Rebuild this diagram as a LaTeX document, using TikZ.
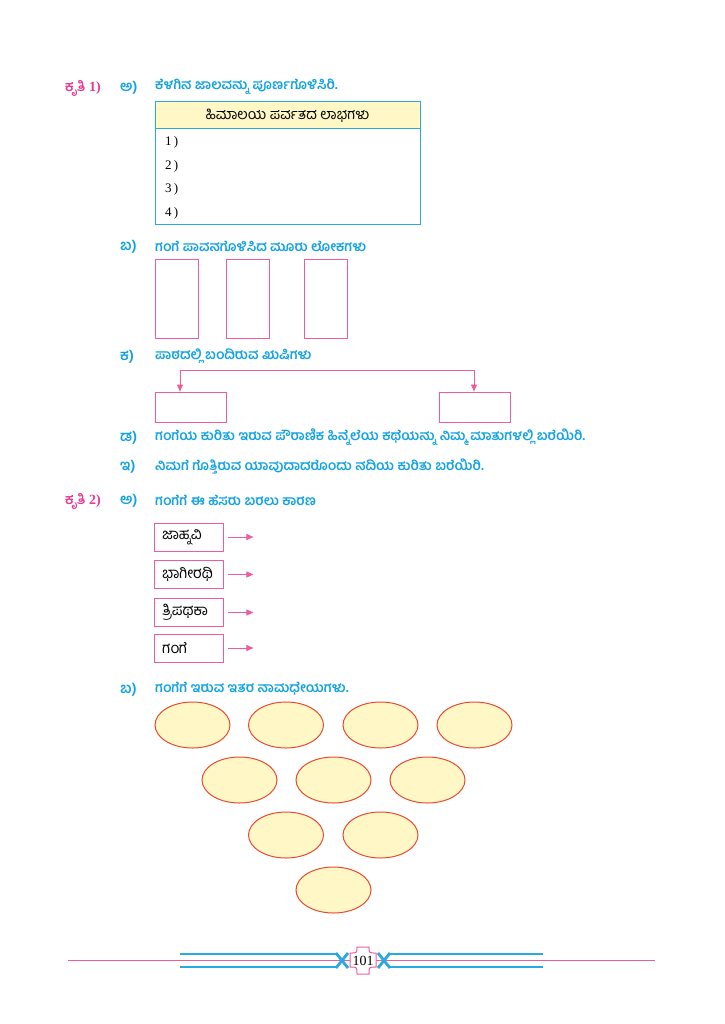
\documentclass[tikz,border=0pt]{standalone}
\usepackage{fontspec}
\setmainfont{Liberation Serif}
\newfontfamily\kn[Script=Kannada]{Hind Mysuru}
\usetikzlibrary{arrows.meta,shapes.geometric}
\definecolor{kmag}{HTML}{E6398F}
\definecolor{kcyan}{HTML}{12A2E2}
\definecolor{kpink}{HTML}{EE5C9E}
\definecolor{kyel}{HTML}{FFF7C6}
\definecolor{kred}{HTML}{EA4A2E}
\definecolor{tcyan}{HTML}{29A9E0}
\tikzset{
  kruti/.style={anchor=west,inner sep=0pt,text=kmag,font=\kn\bfseries\fontsize{14}{16}\selectfont},
  qlab/.style={anchor=west,inner sep=0pt,text=kcyan,font=\kn\bfseries\fontsize{14.5}{16}\selectfont},
  qtext/.style={anchor=west,inner sep=0pt,text=kcyan,font=\kn\bfseries\fontsize{13.6}{16}\selectfont},
  pbox/.style={draw=kpink,line width=0.9pt,inner sep=0pt},
  namebox/.style={draw=kpink,line width=0.9pt,inner xsep=8pt,inner ysep=0pt,minimum width=69pt,minimum height=28pt,text width=53pt,align=left,font=\kn\fontsize{15}{16}\selectfont},
  pinkarrow/.style={draw=kpink,line width=0.9pt,-{Triangle[length=7pt,width=6pt]}},
  oval/.style={ellipse,draw=kred,fill=kyel,line width=1pt,minimum width=75pt,minimum height=46pt,inner sep=0pt},
  rownum/.style={anchor=west,inner sep=0pt,font=\fontsize{13}{15}\selectfont},
}
\begin{document}
\begin{tikzpicture}[x=1pt,y=-1pt]
\useasboundingbox[fill=white] (0,0) rectangle (724,1024);

% Kruti 1
\node[kruti] (k1) at (65,88) {ಕೃತಿ {\rmfamily\bfseries 1)}};
\node[qlab] (a1) at (120,88) {ಅ)};
\node[qtext] (a1t) at (155,87) {ಕೆಳಗಿನ ಜಾಲವನ್ನು ಪೂರ್ಣಗೊಳಿಸಿರಿ.};

% table
\path[fill=kyel] (155,102) rectangle (420,129);
\draw[tcyan,line width=1pt] (155,102) rectangle (420,225);
\draw[tcyan,line width=1pt] (155,129) -- (420,129);
\node[inner sep=0pt,font=\kn\fontsize{14.5}{16}\selectfont] (th) at (287.5,115.5) {ಹಿಮಾಲಯ ಪರ್ವತದ ಲಾಭಗಳು};
\node[rownum] (r1) at (165,142) {1\,)};
\node[rownum] (r2) at (165,166) {2\,)};
\node[rownum] (r3) at (165,189) {3\,)};
\node[rownum] (r4) at (165,213) {4\,)};

% ba
\node[qlab] (b1) at (120,247) {ಬ)};
\node[qtext] (b1t) at (155,246) {ಗಂಗೆ ಪಾವನಗೊಳಿಸಿದ ಮೂರು ಲೋಕಗಳು};
\node[pbox,minimum width=43pt,minimum height=79pt] (lk1) at (176.5,298.5) {};
\node[pbox,minimum width=43pt,minimum height=79pt] (lk2) at (247.5,298.5) {};
\node[pbox,minimum width=43pt,minimum height=79pt] (lk3) at (325.5,298.5) {};

% ka
\node[qlab] (c1) at (120,357) {ಕ)};
\node[qtext] (c1t) at (155,356) {ಪಾಠದಲ್ಲಿ ಬಂದಿರುವ ಋಷಿಗಳು};
\node[pbox,minimum width=71pt,minimum height=30pt] (rs1) at (190.5,407) {};
\node[pbox,minimum width=71pt,minimum height=30pt] (rs2) at (474.5,407) {};
\coordinate (kl) at (180,370);
\coordinate (kr) at (474,370);
\draw[kpink,line width=0.9pt] (kl) -- (kr);
\draw[pinkarrow] (kl) -- (kl |- rs1.north);
\draw[pinkarrow] (kr) -- (kr |- rs2.north);

% da, i
\node[qlab] (d1) at (120,438) {ಡ)};
\node[qtext] (d1t) at (155,437) {ಗಂಗೆಯ ಕುರಿತು ಇರುವ ಪೌರಾಣಿಕ ಹಿನ್ನೆಲೆಯ ಕಥೆಯನ್ನು ನಿಮ್ಮ ಮಾತುಗಳಲ್ಲಿ ಬರೆಯಿರಿ.};
\node[qlab] (e1) at (120,467) {ಇ)};
\node[qtext] (e1t) at (155,466) {ನಿಮಗೆ ಗೊತ್ತಿರುವ ಯಾವುದಾದರೊಂದು ನದಿಯ ಕುರಿತು ಬರೆಯಿರಿ.};

% Kruti 2
\node[kruti] (k2) at (65,501) {ಕೃತಿ {\rmfamily\bfseries 2)}};
\node[qlab] (a2) at (120,501) {ಅ)};
\node[qtext] (a2t) at (155,500) {ಗಂಗೆಗೆ ಈ ಹೆಸರು ಬರಲು ಕಾರಣ};

\node[namebox] (n1) at (188.5,537) {ಜಾಹ್ನವಿ};
\node[namebox] (n2) at (188.5,574.5) {ಭಾಗೀರಥಿ};
\node[namebox] (n3) at (188.5,612.5) {ತ್ರಿಪಥಕಾ};
\node[namebox] (n4) at (188.5,648) {ಗಂಗೆ};
\foreach \i in {1,2,3,4}{
  \coordinate (m\i) at ([xshift=30pt]n\i.east);
  \draw[pinkarrow] ([xshift=5pt]n\i.east) -- (m\i);
}

% ba 2
\node[qlab] (b2) at (120,690) {ಬ)};
\node[qtext] (b2t) at (155,689) {ಗಂಗೆಗೆ ಇರುವ ಇತರ ನಾಮಧೇಯಗಳು.};
\node[oval] (o1) at (192.5,725) {};
\node[oval] (o2) at (286,725) {};
\node[oval] (o3) at (380.5,725) {};
\node[oval] (o4) at (474.5,725) {};
\node[oval] (o5) at (239.5,780) {};
\node[oval] (o6) at (333.5,780) {};
\node[oval] (o7) at (427.5,780) {};
\node[oval] (o8) at (286,835) {};
\node[oval] (o9) at (380.5,835) {};
\node[oval] (o10) at (333.5,890) {};

% footer
\draw[kpink,line width=1.3pt] (68,960.5) -- (655,960.5);
\draw[tcyan,line width=1.3pt] (180,954) -- (337,954) (180,967) -- (337,967);
\draw[tcyan,line width=1.3pt] (389,954) -- (543,954) (389,967) -- (543,967);
\draw[tcyan,line width=2.8pt] (336,953) -- (348,968) (336,968) -- (348,953);
\draw[tcyan,line width=2.8pt] (378,953) -- (390,968) (378,968) -- (390,953);
\draw[kpink,fill=white,line width=1pt] (357,947) -- (369,947) .. controls (369,953) .. (376,953) -- (376,967) .. controls (369,967) .. (369,974) -- (357,974) .. controls (357,967) .. (350,967) -- (350,953) .. controls (357,953) .. (357,947) -- cycle;
\node[inner sep=0pt,font=\fontsize{14}{16}\selectfont] (pg) at (363,960.5) {101};
\end{tikzpicture}
\end{document}
